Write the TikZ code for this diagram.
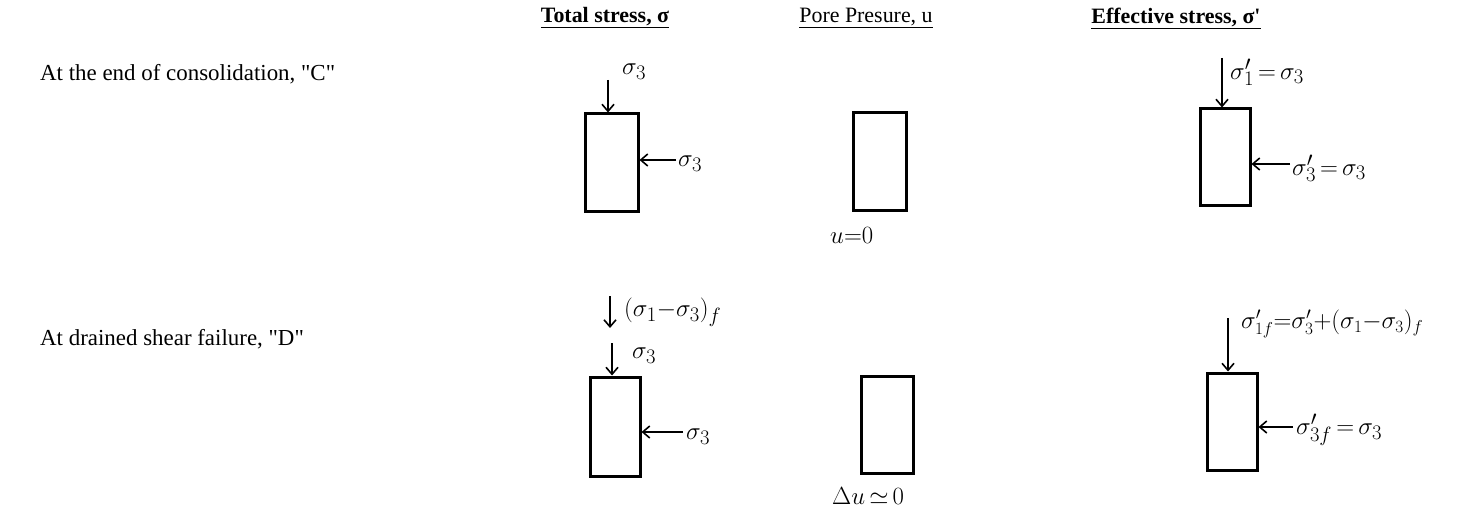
\documentclass[tikz,border=0pt]{standalone}
\usepackage{fontspec}
\setmainfont{Liberation Serif}
\usetikzlibrary{arrows.meta}
\begin{document}
\begin{tikzpicture}[x=1bp,y=-1bp,
  sample/.style={draw,line width=3bp,minimum width=#1,minimum height=97bp,inner sep=0pt},
  sample/.default=51bp,
  load/.style={line width=1.6bp,-{Straight Barb[length=7bp,width=12bp,line width=1.6bp]}},
  hand/.style={inner sep=0pt,anchor=west,font=\fontsize{32}{36}\selectfont},
  handsmall/.style={hand,font=\fontsize{28}{32}\selectfont},
  head/.style={inner sep=0pt,font=\fontsize{22}{26}\selectfont},
  row/.style={inner sep=0pt,anchor=west,font=\fontsize{23}{27}\selectfont}]
\useasboundingbox (0,0) rectangle (1473,511);
% headers
\node[head] (h1) at (605,18) {\bfseries\underline{Total stress, σ}};
\node[head] (h2) at (866,18) {\underline{Pore Presure, u}};
\node[head] (h3) at (1176,18) {\bfseries\underline{Effective stress, σ\textquotesingle}};
% row labels
\node[row] (rc) at (40,74) {At the end of consolidation, \textquotedbl C\textquotedbl};
\node[row] (rd) at (40,339) {At drained shear failure, \textquotedbl D\textquotedbl};
% samples row C
\node[sample=53bp,minimum height=98bp] (CT) at (611.5,163) {};
\node[sample=53bp,minimum height=98bp] (CP) at (879.5,162) {};
\node[sample=50bp] (CE) at (1225,157.5) {};
% samples row D
\node[sample=50bp,minimum height=99bp] (DT) at (615,426.5) {};
\node[sample=52bp] (DP) at (887,424.5) {};
\node[sample=50bp] (DE) at (1232,421.5) {};
% row C loads
\coordinate (ct1) at (608,80);
\coordinate (ct2) at (676,160);
\draw[load] (ct1) -- (ct1 |- CT.north);
\draw[load] (ct2) -- (ct2 -| CT.east);
\node[hand] (lct1) at (622,72) {$\sigma_3$};
\node[hand] (lct2) at (678,164) {$\sigma_3$};
\node[hand] (lcp) at (830,236) {$u{=}0$};
\coordinate (ce1) at (1222,58);
\coordinate (ce2) at (1290,164);
\draw[load] (ce1) -- (ce1 |- CE.north);
\draw[load] (ce2) -- (ce2 -| CE.east);
\node[hand] (lce1) at (1230,72) {$\sigma_1'\,{=}\,\sigma_3$};
\node[hand] (lce2) at (1292,168) {$\sigma_3'\,{=}\,\sigma_3$};
% row D loads
\coordinate (dt0a) at (610,296);
\coordinate (dt0b) at (610,328);
\coordinate (dt1) at (612,343);
\coordinate (dt2) at (683,432);
\draw[load] (dt0a) -- (dt0b);
\draw[load] (dt1) -- (dt1 |- DT.north);
\draw[load] (dt2) -- (dt2 -| DT.east);
\node[hand] (ldt0) at (624,312) {$(\sigma_1{-}\sigma_3)_f$};
\node[hand] (ldt1) at (632,356) {$\sigma_3$};
\node[hand] (ldt2) at (686,437) {$\sigma_3$};
\node[handsmall] (ldp) at (832,496) {$\Delta u\,{\simeq}\,0$};
\coordinate (de1) at (1228,318);
\coordinate (de2) at (1293,427);
\draw[load] (de1) -- (de1 |- DE.north);
\draw[load] (de2) -- (de2 -| DE.east);
\node[hand,font=\fontsize{27}{30}\selectfont] (lde1) at (1241,324) {$\sigma_{1f}'{=}\sigma_3'{+}(\sigma_1{-}\sigma_3)_f$};
\node[hand] (lde2) at (1296,430) {$\sigma_{3f}'\,{=}\,\sigma_3$};
\end{tikzpicture}
\end{document}
